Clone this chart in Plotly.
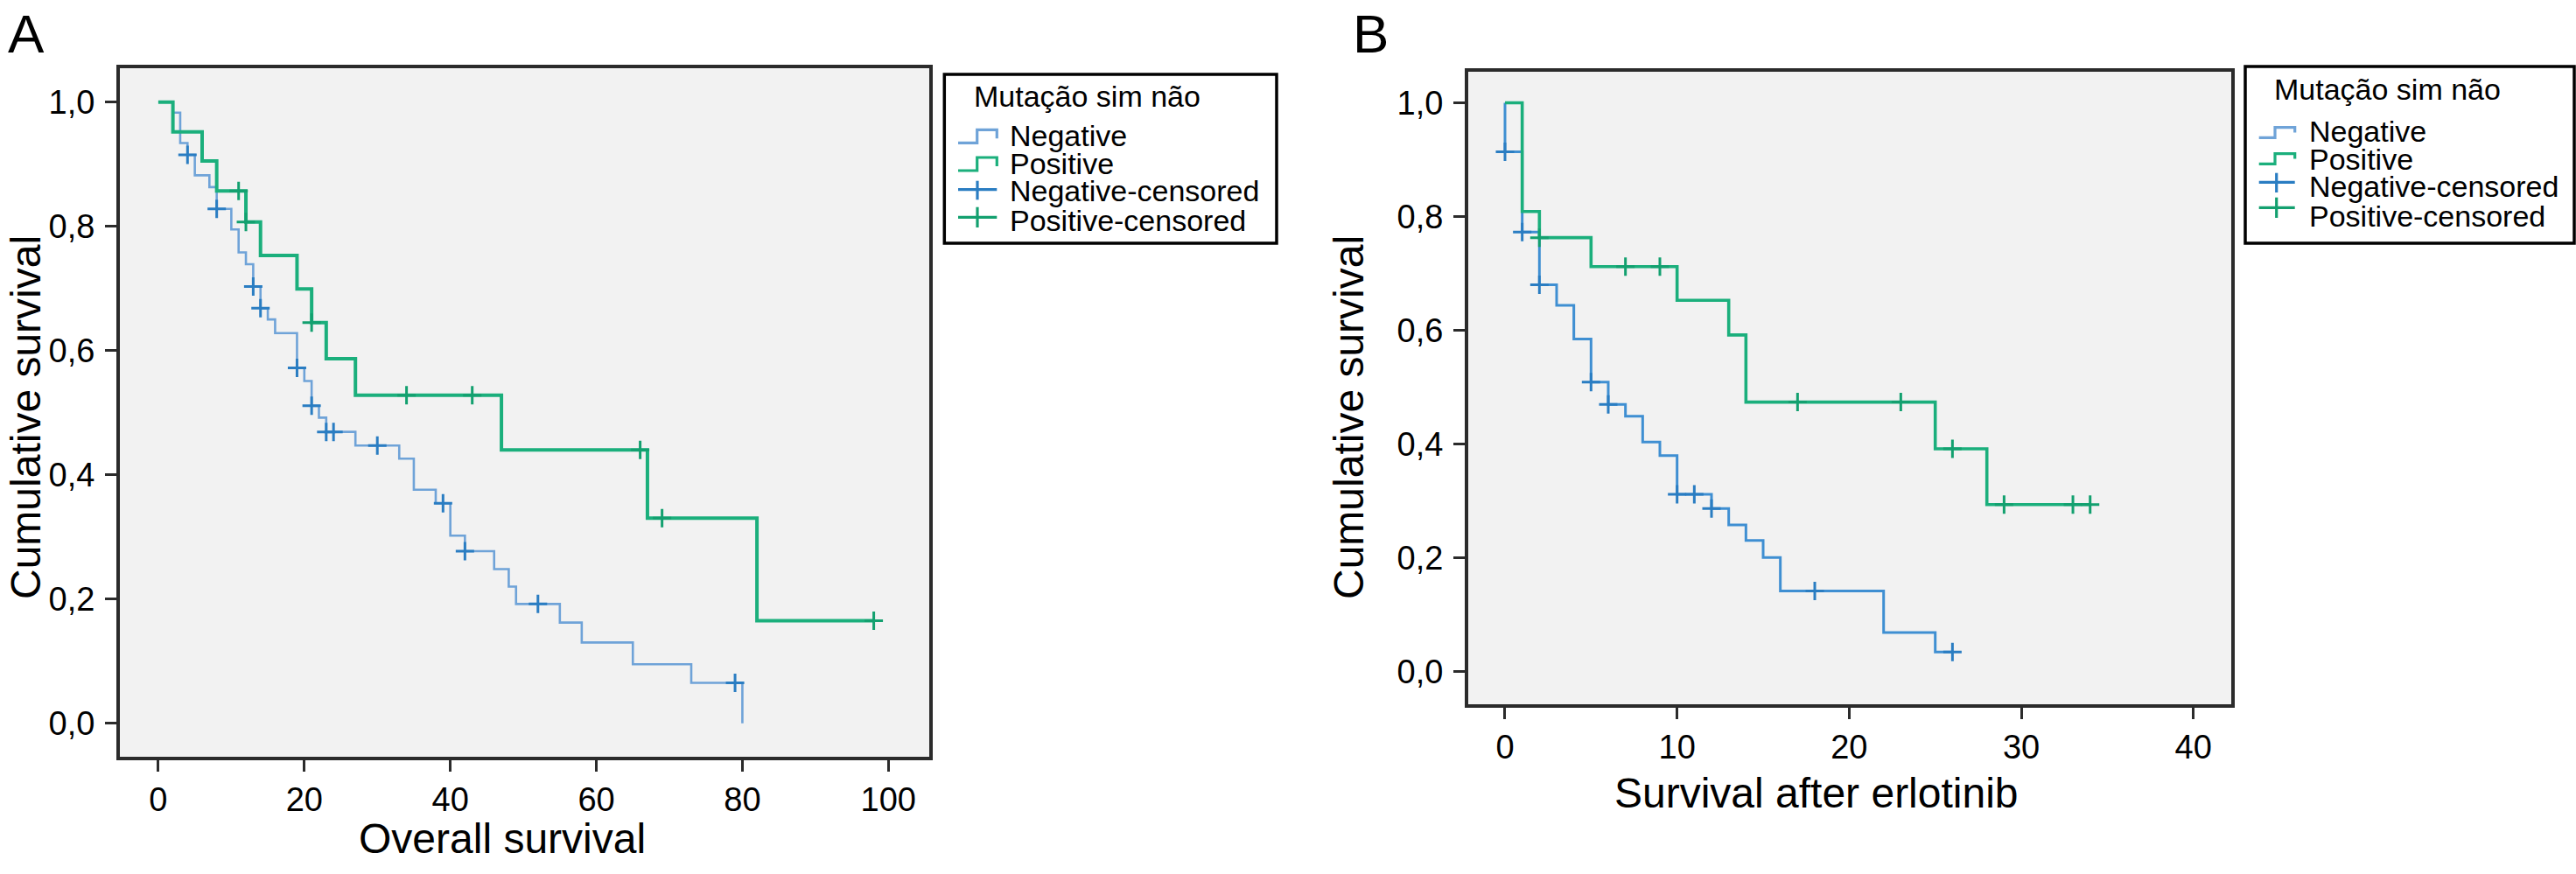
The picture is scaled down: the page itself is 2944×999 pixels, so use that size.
import numpy as np
import plotly.graph_objects as go

# ---------------- data ----------------
# Panel A: Overall survival
A_neg_time = [0, 2, 3, 4, 5, 7, 8, 10, 11, 12, 13, 14, 15, 16, 19, 20, 21, 22, 23, 27, 33, 35,
              38, 40, 42, 46, 48, 49, 55, 58, 65, 73, 80]
A_neg_surv = [1.0, 0.983, 0.934, 0.915, 0.882, 0.863, 0.828, 0.795, 0.758, 0.739, 0.703, 0.668,
              0.650, 0.628, 0.572, 0.551, 0.511, 0.492, 0.469, 0.447, 0.426, 0.376, 0.354, 0.302,
              0.277, 0.248, 0.220, 0.192, 0.162, 0.130, 0.095, 0.065, 0.0]
A_neg_cens = [4, 8, 13, 14, 19, 21, 23, 24, 30, 39, 42, 52, 79]

A_pos_time = [0, 2, 6, 8, 12, 14, 19, 21, 23, 27, 47, 67, 82, 98]
A_pos_surv = [1.0, 0.952, 0.905, 0.857, 0.807, 0.753, 0.699, 0.645, 0.587, 0.528, 0.440, 0.330,
              0.165, 0.165]
A_pos_cens = [11, 12, 21, 34, 43, 66, 69, 98]

# Panel B: Survival after erlotinib
B_neg_time = [0, 0, 1, 2, 3, 4, 5, 6, 7, 8, 9, 10, 12, 13, 14, 15, 16, 22, 25, 26]
B_neg_surv = [1.0, 0.914, 0.773, 0.680, 0.644, 0.585, 0.509, 0.470, 0.449, 0.404, 0.380, 0.312,
              0.287, 0.258, 0.231, 0.201, 0.142, 0.069, 0.035, 0.035]
B_neg_cens = [0, 1, 2, 5, 6, 10, 11, 12, 18, 26]

B_pos_time = [0, 1, 2, 5, 10, 13, 14, 25, 28, 34]
B_pos_surv = [1.0, 0.809, 0.763, 0.712, 0.653, 0.592, 0.474, 0.392, 0.294, 0.294]
B_pos_cens = [2, 7, 9, 17, 23, 26, 29, 33, 34]

y_tickvals = [0.0, 0.2, 0.4, 0.6, 0.8, 1.0]
y_ticktext = ["0,0", "0,2", "0,4", "0,6", "0,8", "1,0"]
A_xticks = [0, 20, 40, 60, 80, 100]
B_xticks = [0, 10, 20, 30, 40]

legend_title = "Mutação sim não"
legend_items = ["Negative", "Positive", "Negative-censored", "Positive-censored"]

# ---------------- styling ----------------
W, H = 2944, 999
FONT = "Liberation Sans, Arial, sans-serif"
BG = "#F2F2F2"
AX = "#2b2b2b"
A_NEG_LINE = "#6FA3D8"
B_NEG_LINE = "#3F8FD2"
NEG_CENS = "#2A7DC2"
POS_LINE = "#1BAF7C"
POS_CENS = "#13A06F"


def px(x):
    return x / W


def py(y):
    return 1 - y / H


def at(times, surv, t):
    i = np.searchsorted(np.asarray(times, float), t, side="right") - 1
    return surv[i]


fig = go.Figure()


def add_km(times, surv, cens, xa, ya, lcol, lw, ccol, name):
    fig.add_trace(go.Scatter(x=times, y=surv, mode="lines", line=dict(color=lcol, width=lw, shape="hv"),
                             xaxis=xa, yaxis=ya, showlegend=False, name=name, hoverinfo="x+y"))
    cy = [at(times, surv, t) for t in cens]
    fig.add_trace(go.Scatter(x=cens, y=cy, mode="markers",
                             marker=dict(symbol="cross-thin", size=15, line=dict(color=ccol, width=3)),
                             xaxis=xa, yaxis=ya, showlegend=False, name=name + "-censored",
                             hoverinfo="x+y"))


add_km(A_neg_time, A_neg_surv, A_neg_cens, "x", "y", A_NEG_LINE, 2.6, NEG_CENS, "Negative")
add_km(A_pos_time, A_pos_surv, A_pos_cens, "x", "y", POS_LINE, 4, POS_CENS, "Positive")
add_km(B_neg_time, B_neg_surv, B_neg_cens, "x2", "y2", B_NEG_LINE, 3, NEG_CENS, "Negative")
add_km(B_pos_time, B_pos_surv, B_pos_cens, "x2", "y2", POS_LINE, 3.6, POS_CENS, "Positive")

axis_common = dict(showgrid=False, zeroline=False, showline=True, mirror=True, linecolor=AX,
                   linewidth=3.5, ticks="outside", ticklen=13, tickwidth=3, tickcolor=AX,
                   tickfont=dict(family=FONT, size=38, color="black"), fixedrange=True)

fig.update_layout(
    width=W, height=H, margin=dict(l=0, r=0, t=0, b=0), paper_bgcolor="white",
    plot_bgcolor=BG, showlegend=False, font=dict(family=FONT, color="black"),
    xaxis=dict(domain=[px(136.7), px(1062)], range=[-5.3, 105.6], tickvals=A_xticks,
               anchor="y", **axis_common),
    yaxis=dict(domain=[py(865), py(78.3)], range=[-0.054, 1.054], tickvals=y_tickvals,
               ticktext=y_ticktext, anchor="x", ticklabelstandoff=4, **axis_common),
    xaxis2=dict(domain=[px(1677.7), px(2550)], range=[-2.15, 42.2], tickvals=B_xticks,
                anchor="y2", **axis_common),
    yaxis2=dict(domain=[py(805), py(81.7)], range=[-0.057, 1.055], tickvals=y_tickvals,
                ticktext=y_ticktext, anchor="x2", ticklabelstandoff=4, **axis_common),
)

ann = []
# panel letters
ann.append(dict(text="A", x=px(30), y=py(38), xref="paper", yref="paper", showarrow=False,
                font=dict(size=62, family=FONT), xanchor="center", yanchor="middle"))
ann.append(dict(text="B", x=px(1566), y=py(38), xref="paper", yref="paper", showarrow=False,
                font=dict(size=62, family=FONT), xanchor="center", yanchor="middle"))
# axis titles
ann.append(dict(text="Overall survival", x=px(574), y=py(958), xref="paper", yref="paper",
                showarrow=False, font=dict(size=48, family=FONT), xanchor="center", yanchor="middle"))
ann.append(dict(text="Survival after erlotinib", x=px(2076), y=py(906), xref="paper", yref="paper",
                showarrow=False, font=dict(size=48, family=FONT), xanchor="center", yanchor="middle"))
ann.append(dict(text="Cumulative survival", x=px(29), y=py(477), xref="paper", yref="paper",
                showarrow=False, textangle=-90, font=dict(size=48, family=FONT),
                xanchor="center", yanchor="middle"))
ann.append(dict(text="Cumulative survival", x=px(1541), y=py(477), xref="paper", yref="paper",
                showarrow=False, textangle=-90, font=dict(size=48, family=FONT),
                xanchor="center", yanchor="middle"))

shapes = []


def add_legend(box, title_xy, text_x, item_ys, step_geom, cross_geom):
    x0, y0, x1, y1 = box
    shapes.append(dict(type="rect", xref="paper", yref="paper", x0=px(x0), x1=px(x1),
                       y0=py(y1), y1=py(y0), line=dict(color="black", width=3.5),
                       fillcolor="white", layer="above"))
    ann.append(dict(text=legend_title, x=px(title_xy[0]), y=py(title_xy[1]), xref="paper",
                    yref="paper", showarrow=False, font=dict(size=34, family=FONT),
                    xanchor="left", yanchor="middle"))
    for lab, yy in zip(legend_items, item_ys):
        ann.append(dict(text=lab, x=px(text_x), y=py(yy), xref="paper", yref="paper",
                        showarrow=False, font=dict(size=34, family=FONT),
                        xanchor="left", yanchor="middle"))
    # step glyphs
    for (gx0, gxm, gx1, ylow, ytop, yhook), col in zip(step_geom, [A_NEG_LINE, POS_LINE]):
        path = (f"M {px(gx0)},{py(ylow)} L {px(gxm)},{py(ylow)} L {px(gxm)},{py(ytop)} "
                f"L {px(gx1)},{py(ytop)} L {px(gx1)},{py(yhook)}")
        shapes.append(dict(type="path", xref="paper", yref="paper", path=path,
                           line=dict(color=col, width=3.2), layer="above"))
    # cross glyphs
    for (cx0, cxm, cx1, yc, yv0, yv1), col in zip(cross_geom, [NEG_CENS, POS_CENS]):
        shapes.append(dict(type="line", xref="paper", yref="paper", x0=px(cx0), x1=px(cx1),
                           y0=py(yc), y1=py(yc), line=dict(color=col, width=3.2), layer="above"))
        shapes.append(dict(type="line", xref="paper", yref="paper", x0=px(cxm), x1=px(cxm),
                           y0=py(yv0), y1=py(yv1), line=dict(color=col, width=3.2), layer="above"))


add_legend((1079.3, 85, 1459, 278), (1111, 109.5), 1151.7, [155, 186.7, 218.3, 251.7],
           [(1095, 1116.7, 1139.3, 163.3, 148.3, 158.3), (1095, 1116.7, 1139.3, 195, 180, 190)],
           [(1095, 1117, 1139.3, 216.7, 206.7, 228.3), (1095, 1117, 1139.3, 248.3, 236.7, 260)])
add_legend((2566, 76, 2942, 278), (2596.7, 101.7), 2637, [150, 181.7, 213.3, 246.7],
           [(2581.7, 2600, 2622.7, 157.3, 145.7, 151.5), (2581.7, 2600, 2622.7, 187.3, 175.7, 181.5)],
           [(2581.7, 2601.7, 2622.7, 208.3, 197.7, 220), (2581.7, 2601.7, 2622.7, 237.3, 225.7, 249)])

fig.update_layout(annotations=ann, shapes=shapes)

fig.write_html("out.html", config={"displayModeBar": False},
               post_script="document.body.style.margin='0';document.body.style.overflow='hidden';")
